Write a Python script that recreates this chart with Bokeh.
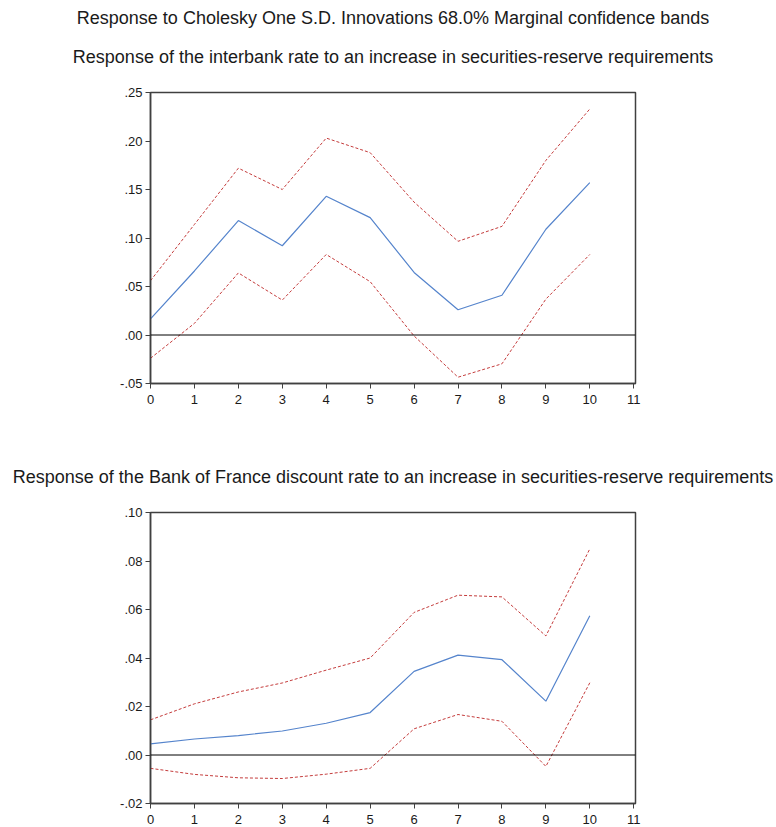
from bokeh.plotting import figure
from bokeh.layouts import column
from bokeh.models import Range1d, FixedTicker, Span, Title, CustomJSTickFormatter
from bokeh.embed import file_html
from bokeh.resources import INLINE

horizon = [0, 1, 2, 3, 4, 5, 6, 7, 8, 9, 10]

# Panel 1: interbank rate
ib_mid = [0.0166, 0.066, 0.118, 0.092, 0.143, 0.121, 0.0645, 0.026, 0.041, 0.109, 0.157]
ib_up = [0.056, 0.114, 0.172, 0.150, 0.203, 0.188, 0.137, 0.0966, 0.112, 0.180, 0.233]
ib_lo = [-0.024, 0.012, 0.064, 0.036, 0.083, 0.055, -0.001, -0.0435, -0.0297, 0.037, 0.083]

# Panel 2: Bank of France discount rate
bf_mid = [0.0046, 0.0066, 0.0080, 0.0099, 0.0131, 0.0175, 0.0345, 0.0412, 0.0393, 0.0222, 0.0574]
bf_up = [0.0145, 0.0211, 0.0260, 0.0297, 0.0350, 0.0400, 0.0588, 0.0659, 0.0652, 0.0491, 0.0850]
bf_lo = [-0.0055, -0.0080, -0.0094, -0.0097, -0.0079, -0.0055, 0.0108, 0.0167, 0.0139, -0.0047, 0.0298]

x_ticks = list(range(0, 12))
y_ticks_1 = [-0.05, 0.00, 0.05, 0.10, 0.15, 0.20, 0.25]
y_ticks_2 = [-0.02, 0.00, 0.02, 0.04, 0.06, 0.08, 0.10]

main_title = "Response to Cholesky One S.D. Innovations 68.0% Marginal confidence bands"
title_1 = "Response of the interbank rate to an increase in securities-reserve requirements"
title_2 = "Response of the Bank of France discount rate to an increase in securities-reserve requirements"

FONT = "Liberation Sans"
BLUE = "#5584CC"
RED = "#C43C3C"
FRAME = "#404040"
TITLE_SIZE = "18px"

fmt = CustomJSTickFormatter(code="""
var s = tick.toFixed(2);
if (s.startsWith('-0.')) { return '-.' + s.slice(3); }
if (s.startsWith('0.')) { return '.' + s.slice(2); }
return s;
""")


def style_title(t, text, standoff):
    t.text = text
    t.text_font = FONT
    t.text_font_size = TITLE_SIZE
    t.text_font_style = "normal"
    t.text_color = "#1a1a1a"
    t.align = "center"
    t.standoff = standoff


def make_panel(height, border_top, border_bottom, y_lo, y_hi, y_ticks, mid, up, lo):
    p = figure(width=776, height=height, output_backend="svg", toolbar_location=None,
               x_range=Range1d(0, 11.04), y_range=Range1d(y_lo, y_hi),
               min_border_left=150, min_border_right=141,
               min_border_top=border_top, min_border_bottom=border_bottom)
    p.grid.visible = False
    p.background_fill_color = "white"
    p.border_fill_color = "white"
    p.outline_line_color = FRAME
    p.outline_line_width = 1.5
    for ax in (p.xaxis[0], p.yaxis[0]):
        ax.axis_line_color = FRAME
        ax.axis_line_width = 1.5
        ax.major_tick_line_color = FRAME
        ax.major_tick_line_width = 1
        ax.major_tick_in = 0
        ax.major_tick_out = 5
        ax.minor_tick_line_color = None
        ax.major_label_text_font = FONT
        ax.major_label_text_font_size = "13px"
        ax.major_label_text_color = "#1a1a1a"
    p.xaxis.major_label_standoff = 6
    p.yaxis.major_label_standoff = 3
    p.xaxis.ticker = FixedTicker(ticks=x_ticks)
    p.yaxis.ticker = FixedTicker(ticks=y_ticks)
    p.yaxis.formatter = fmt
    p.add_layout(Span(location=0, dimension="width", line_color="black", line_width=1))
    p.line(horizon, up, line_color=RED, line_width=1, line_dash="3 2")
    p.line(horizon, lo, line_color=RED, line_width=1, line_dash="3 2")
    p.line(horizon, mid, line_color=BLUE, line_width=1.2)
    return p


p1 = make_panel(409, 92, 26, -0.05, 0.25, y_ticks_1, ib_mid, ib_up, ib_lo)
style_title(p1.title, main_title, 11)
# small empty spacer between the subtitle and the frame
p1.add_layout(Title(text=" ", text_font=FONT, text_font_size="1px", standoff=11), "above")
sub = Title()
style_title(sub, title_1, 23)
p1.add_layout(sub, "above")

p2 = make_panel(418, 103, 24, -0.02, 0.10, y_ticks_2, bf_mid, bf_up, bf_lo)
style_title(p2.title, title_2, 51)

layout = column(p1, p2, spacing=0)
open("out.html", "w").write(file_html(layout, INLINE))
